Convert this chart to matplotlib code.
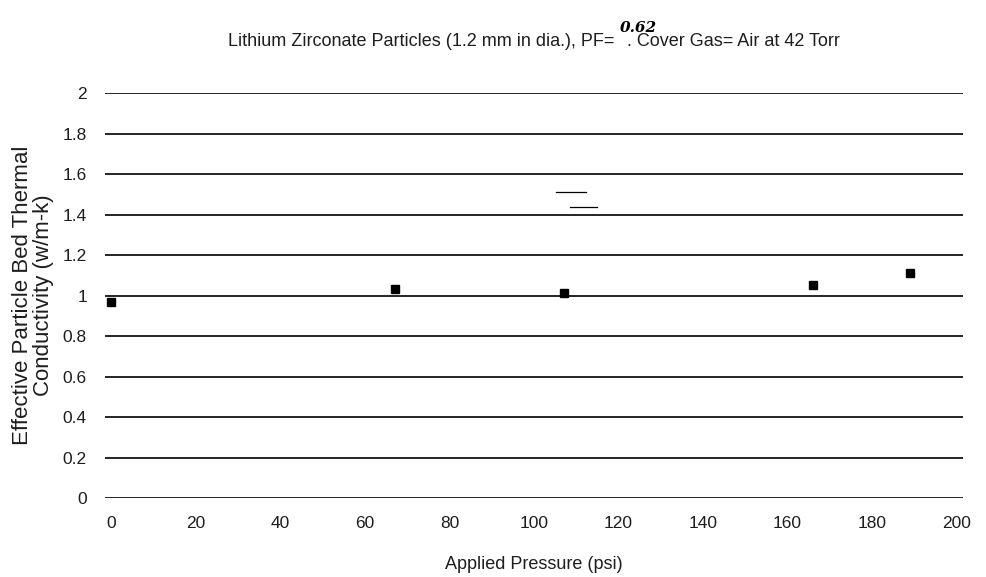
import matplotlib.pyplot as plt

# -----------------------------------
# DATA
# -----------------------------------
pressure_psi = [0, 67, 107, 166, 189]
conductivity = [0.97, 1.03, 1.01, 1.05, 1.11]

x_ticks = [0, 20, 40, 60, 80, 100, 120, 140, 160, 180, 200]
y_ticks = [0, 0.2, 0.4, 0.6, 0.8, 1, 1.2, 1.4, 1.6, 1.8, 2]
y_tick_labels = ["0", "0.2", "0.4", "0.6", "0.8", "1", "1.2", "1.4", "1.6", "1.8", "2"]

# pen strokes on the sheet (start x, end x, level)
stroke_x0 = [105.3, 108.4]
stroke_x1 = [112.4, 115.0]
stroke_y = [1.51, 1.436]

packing_fraction = "0.62"

plt.rcParams['font.family'] = ['Liberation Sans', 'DejaVu Sans']
text_color = "#1e1e1e"

# -----------------------------------
# FIGURE
# -----------------------------------
fig = plt.figure(figsize=(9.87, 5.77), dpi=100)
ax = fig.add_axes([0.1064, 0.1369, 0.8693, 0.7019])

ax.set_xlim(-1.5, 201.5)
ax.set_ylim(0, 2)

# horizontal grid lines
for yv in y_ticks:
    ax.axhline(yv, color="black", linewidth=1.2, zorder=1)

ax.plot(pressure_psi, conductivity, linestyle="none", marker="s",
        markersize=5.8, color="black", zorder=3, clip_on=False)

for x0, x1, yv in zip(stroke_x0, stroke_x1, stroke_y):
    ax.plot([x0, x1], [yv, yv], color="black", linewidth=0.9, zorder=2)

for side in ["top", "right", "bottom", "left"]:
    ax.spines[side].set_visible(False)

ax.set_xticks(x_ticks)
ax.set_xticklabels([str(v) for v in x_ticks])
ax.set_yticks(y_ticks)
ax.set_yticklabels(y_tick_labels)
ax.tick_params(axis="both", length=0, labelsize=12.5, colors=text_color)
ax.tick_params(axis="y", pad=13)
ax.tick_params(axis="x", pad=13)

ax.set_xlabel("Applied Pressure (psi)", fontsize=13, color=text_color, labelpad=18)
ax.set_ylabel("Effective Particle Bed Thermal\nConductivity (w/m-k)",
              fontsize=16, color=text_color, labelpad=6, linespacing=1.05)

# -----------------------------------
# TITLE (typed text with handwritten value)
# -----------------------------------
title_size = 13
t1 = fig.text(0.2, 1 - 46 / 577,
              "Lithium Zirconate Particles (1.2 mm in dia.), PF= ",
              fontsize=title_size, color=text_color, ha="left", va="baseline")
t2 = ax.annotate(". Cover Gas= Air at 42 Torr", xy=(1, 0), xycoords=t1,
                 xytext=(5, 0), textcoords="offset points",
                 fontsize=title_size, color=text_color, ha="left", va="bottom",
                 annotation_clip=False)
ax.annotate(packing_fraction, xy=(1, 0), xycoords=t1,
            xytext=(0, 11), textcoords="offset points",
            fontsize=11, fontweight="bold", fontstyle="italic",
            family=["DejaVu Serif"], color="black", ha="left", va="bottom",
            annotation_clip=False)

# center the whole title line over the plot area
fig.canvas.draw()
renderer = fig.canvas.get_renderer()
left = t1.get_window_extent(renderer).x0
right = t2.get_window_extent(renderer).x1
fig_w = fig.bbox.width
ax_box = ax.get_window_extent(renderer)
center = (ax_box.x0 + ax_box.x1) / 2
shift = center - (left + right) / 2
t1.set_x(0.2 + shift / fig_w)

fig.savefig("out.png", dpi=100)
